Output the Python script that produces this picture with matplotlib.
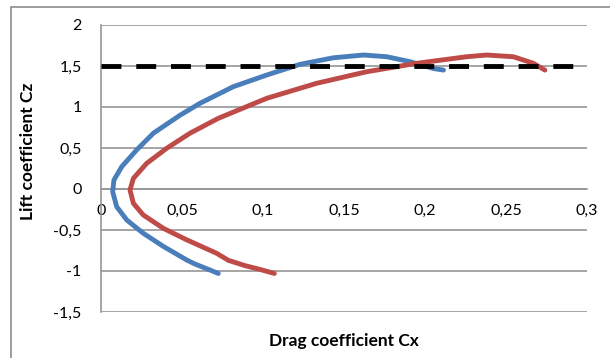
import numpy as np
import matplotlib.pyplot as plt
from matplotlib.patches import Rectangle

plt.rcParams['font.family'] = ['Lato', 'DejaVu Sans']

# ----------------- data -----------------
# blue polar (from the negative end, round the nose, to the stall end)
cx_blue = [0.0724, 0.0673, 0.058, 0.0529, 0.0385, 0.0261, 0.0159, 0.0097,
           0.0072, 0.008, 0.0128, 0.022, 0.0323, 0.0488, 0.0611, 0.0817,
           0.1023, 0.1228, 0.1434, 0.162, 0.1764, 0.1907, 0.2051, 0.2114]
cz_blue = [-1.03, -0.988, -0.915, -0.866, -0.70, -0.54, -0.378, -0.216,
           -0.033, 0.11, 0.272, 0.476, 0.68, 0.90, 1.045, 1.248,
           1.39, 1.52, 1.60, 1.634, 1.613, 1.553, 1.47, 1.45]

# red polar
cx_red = [0.107, 0.098, 0.089, 0.0786, 0.0714, 0.0529, 0.0385, 0.0261,
          0.020, 0.0179, 0.020, 0.0282, 0.0405, 0.0549, 0.0724, 0.1023,
          0.1331, 0.164, 0.1949, 0.2257, 0.238, 0.2545, 0.2669, 0.274]
cz_red = [-1.03, -0.98, -0.935, -0.87, -0.784, -0.62, -0.48, -0.317,
          -0.175, -0.012, 0.13, 0.313, 0.496, 0.68, 0.862, 1.106,
          1.289, 1.43, 1.533, 1.613, 1.634, 1.613, 1.533, 1.45]

# Cz max reference line
cx_ref = [0, 0.3]
cz_ref = [1.5, 1.5]

x_ticks = [0, 0.05, 0.1, 0.15, 0.2, 0.25, 0.3]
x_labels = ['0', '0,05', '0,1', '0,15', '0,2', '0,25', '0,3']
y_ticks = [-1.5, -1, -0.5, 0, 0.5, 1, 1.5, 2]
y_labels = ['-1,5', '-1', '-0,5', '0', '0,5', '1', '1,5', '2']

# ----------------- plotting -----------------
fig = plt.figure(figsize=(6.1, 3.58), dpi=100)
W, H = 610, 358
ax = fig.add_axes([101 / W, 1 - 312 / H, (587 - 101) / W, (312 - 25) / H])

# outer chart frame
fig.patches.append(Rectangle((11 / W, -0.1), 1.2, 1 - 7 / H + 0.1,
                             transform=fig.transFigure, fill=False,
                             edgecolor='#8c8c8c', linewidth=1.2))

lw = 3.5
ax.plot(cx_blue, cz_blue, color='#4a7ebb', linewidth=lw,
        solid_capstyle='round', solid_joinstyle='round', zorder=3)
ax.plot(cx_red, cz_red, color='#be4b48', linewidth=lw,
        solid_capstyle='round', solid_joinstyle='round', zorder=3)
ax.plot(cx_ref, cz_ref, color='black', linewidth=lw, dashes=(4.1, 3.05), zorder=4)

ax.set_xlim(0, 0.3)
ax.set_ylim(-1.5, 2)
ax.set_xticks(x_ticks)
ax.set_xticklabels(x_labels)
ax.set_yticks(y_ticks)
ax.set_yticklabels(y_labels)
ax.tick_params(length=0, labelsize=11.5, colors='black')
ax.tick_params(axis='y', pad=14)
ax.tick_params(axis='x', pad=11)

ax.yaxis.grid(True, color='#969696', linewidth=1.2)
ax.set_axisbelow(True)
for s in ['top', 'right']:
    ax.spines[s].set_visible(False)
ax.spines['bottom'].set_position(('data', 0))
ax.spines['bottom'].set_color('#969696')
ax.spines['bottom'].set_linewidth(1.2)
ax.spines['left'].set_color('#969696')
ax.spines['left'].set_linewidth(1.2)

fig.text(28 / W, 1 - 151 / H, 'Lift coefficient Cz', rotation=90, ha='center',
         va='center', fontsize=12.5, fontweight='bold')
fig.text(344 / W, 1 - 341 / H, 'Drag coefficient Cx', ha='center', va='center',
         fontsize=12.5, fontweight='bold')

fig.savefig('out.png', dpi=100)
